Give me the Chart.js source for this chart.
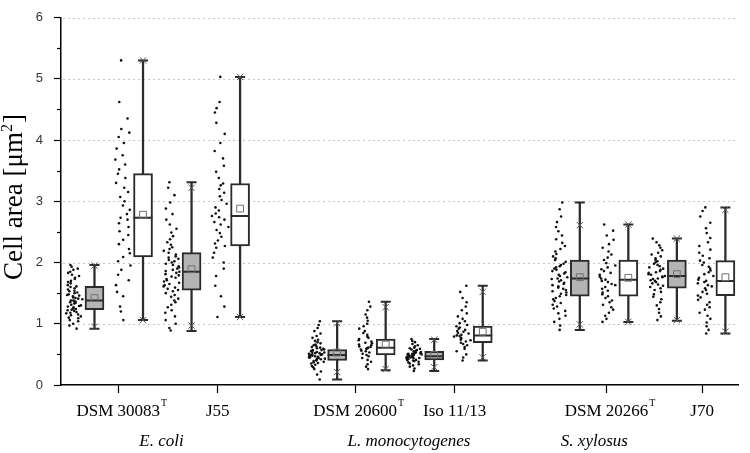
<!DOCTYPE html>
<html>
<head>
<meta charset="utf-8">
<script src="https://cdn.jsdelivr.net/npm/chart.js@4.4.1/dist/chart.umd.min.js"></script>
<style>
  html, body { margin: 0; padding: 0; background: #fff; }
  canvas { display: block; }
</style>
</head>
<body>
<canvas id="chart" width="750" height="453"></canvas>
<script>
// strains (two per species), each measured under two conditions (grey box, white box)
const strains = ['DSM 30083', 'J55', 'DSM 20600', 'Iso 11/13', 'DSM 20266', 'J70'];
const typeStrain = [true, false, true, false, true, false];
const species = ['E. coli', 'L. monocytogenes', 'S. xylosus'];
const yTicks = [0, 1, 2, 3, 4, 5, 6];

// box statistics, one entry per box: strain 1 grey, strain 1 white, strain 2 grey, ...
const q1     = [1.23, 2.09, 1.55, 2.27, 0.40, 0.49, 0.41, 0.69, 1.45, 1.45, 1.58, 1.46];
const median = [1.38, 2.73, 1.85, 2.76, 0.49, 0.61, 0.47, 0.81, 1.74, 1.72, 1.78, 1.70];
const q3     = [1.61, 3.45, 2.16, 3.29, 0.58, 0.75, 0.55, 0.96, 2.04, 2.04, 2.04, 2.03];
const mean   = [1.42, 2.78, 1.89, 2.88, 0.53, 0.66, 0.49, 0.87, 1.76, 1.75, 1.81, 1.76];
const minVal = [0.92, 1.06, 0.88, 1.11, 0.09, 0.24, 0.23, 0.40, 0.90, 1.03, 1.05, 0.84];
const maxVal = [1.96, 5.30, 3.31, 5.03, 1.04, 1.36, 0.75, 1.62, 2.98, 2.62, 2.39, 2.90];
const p1     = [0.95, 1.06, 0.97, 1.11, 0.21, 0.26, 0.29, 0.45, 0.99, 1.03, 1.06, 0.87];
const p99    = [1.95, 5.30, 3.22, 5.03, 1.01, 1.27, 0.74, 1.52, 2.61, 2.62, 2.39, 2.86];

// single cell areas
const cellsEcDsmA = [0.92,0.97,1.0,1.04,1.06,1.09,1.1,1.12,1.14,1.15,1.17,1.18,1.19,1.21,1.22,1.23,1.24,1.25,1.27,1.28,1.29,1.3,1.31,1.33,1.34,1.35,1.36,1.37,1.38,1.38,1.4,1.41,1.42,1.43,1.45,1.46,1.47,1.48,1.5,1.51,1.53,1.54,1.56,1.58,1.6,1.61,1.63,1.66,1.68,1.7,1.73,1.75,1.78,1.8,1.83,1.85,1.88,1.9,1.93,1.96];
const cellsEcDsmB = [1.06,1.2,1.28,1.45,1.52,1.63,1.71,1.8,1.88,1.95,2.02,2.09,2.15,2.22,2.3,2.37,2.45,2.51,2.58,2.64,2.7,2.73,2.79,2.86,2.93,3.0,3.07,3.15,3.22,3.3,3.38,3.45,3.52,3.6,3.68,3.75,3.86,3.95,4.05,4.12,4.18,4.35,4.62,5.3];
const cellsEcJ55A = [0.89,0.93,1.0,1.06,1.12,1.18,1.22,1.27,1.31,1.35,1.38,1.41,1.44,1.47,1.5,1.53,1.55,1.57,1.59,1.61,1.63,1.65,1.67,1.69,1.71,1.73,1.75,1.77,1.79,1.81,1.83,1.85,1.86,1.88,1.9,1.92,1.94,1.96,1.98,2.0,2.02,2.04,2.06,2.08,2.1,2.13,2.16,2.19,2.22,2.25,2.29,2.33,2.38,2.43,2.49,2.55,2.62,2.7,2.79,2.88,2.98,3.1,3.22,3.31];
const cellsEcJ55B = [1.11,1.28,1.45,1.62,1.78,1.9,2.0,2.08,2.16,2.24,2.27,2.31,2.36,2.42,2.48,2.53,2.58,2.62,2.66,2.7,2.74,2.76,2.8,2.85,2.9,2.96,3.02,3.08,3.14,3.2,3.26,3.29,3.38,3.48,3.58,3.7,3.82,3.95,4.1,4.28,4.45,4.52,4.62,5.03];
const cellsLmDsmA = [0.09,0.17,0.22,0.26,0.29,0.31,0.33,0.35,0.36,0.37,0.38,0.39,0.4,0.41,0.42,0.43,0.43,0.44,0.45,0.45,0.46,0.47,0.47,0.48,0.48,0.49,0.49,0.5,0.5,0.51,0.52,0.52,0.53,0.54,0.54,0.55,0.56,0.57,0.57,0.58,0.59,0.6,0.61,0.62,0.63,0.65,0.66,0.68,0.7,0.72,0.74,0.77,0.8,0.84,0.88,0.93,0.98,1.04];
const cellsLmDsmB = [0.26,0.3,0.34,0.38,0.41,0.44,0.47,0.49,0.51,0.53,0.55,0.56,0.58,0.59,0.6,0.61,0.62,0.63,0.65,0.66,0.68,0.69,0.71,0.73,0.75,0.77,0.79,0.82,0.85,0.88,0.92,0.96,1.0,1.05,1.1,1.15,1.22,1.28,1.36];
const cellsLmIsoA = [0.23,0.27,0.3,0.32,0.34,0.35,0.37,0.38,0.39,0.4,0.41,0.41,0.42,0.43,0.43,0.44,0.44,0.45,0.45,0.46,0.46,0.47,0.47,0.47,0.48,0.48,0.49,0.49,0.5,0.5,0.51,0.51,0.52,0.52,0.53,0.54,0.54,0.55,0.56,0.57,0.58,0.59,0.6,0.61,0.63,0.65,0.67,0.7,0.72,0.75];
const cellsLmIsoB = [0.4,0.45,0.5,0.55,0.59,0.62,0.65,0.67,0.69,0.71,0.73,0.74,0.76,0.77,0.79,0.8,0.81,0.82,0.84,0.85,0.87,0.88,0.9,0.92,0.94,0.96,0.98,1.01,1.04,1.08,1.12,1.17,1.22,1.28,1.35,1.42,1.52,1.62];
const cellsSxDsmA = [0.9,0.97,1.03,1.08,1.13,1.17,1.21,1.25,1.28,1.31,1.34,1.37,1.4,1.42,1.45,1.47,1.49,1.51,1.53,1.55,1.57,1.59,1.61,1.63,1.65,1.67,1.69,1.71,1.73,1.74,1.76,1.78,1.8,1.82,1.84,1.86,1.88,1.9,1.92,1.94,1.96,1.98,2.01,2.04,2.07,2.1,2.14,2.18,2.22,2.27,2.32,2.38,2.44,2.51,2.58,2.66,2.75,2.87,2.98];
const cellsSxDsmB = [1.03,1.08,1.13,1.18,1.23,1.27,1.31,1.35,1.38,1.42,1.45,1.48,1.51,1.54,1.57,1.6,1.63,1.65,1.68,1.7,1.72,1.74,1.77,1.8,1.83,1.86,1.89,1.92,1.95,1.99,2.04,2.08,2.13,2.18,2.24,2.3,2.37,2.44,2.52,2.62];
const cellsSxJ70A = [1.06,1.12,1.18,1.24,1.3,1.35,1.4,1.44,1.48,1.52,1.55,1.58,1.6,1.62,1.64,1.66,1.68,1.7,1.71,1.73,1.74,1.76,1.77,1.78,1.8,1.81,1.83,1.84,1.86,1.88,1.9,1.92,1.94,1.96,1.98,2.0,2.02,2.04,2.07,2.1,2.13,2.16,2.2,2.24,2.28,2.33,2.39];
const cellsSxJ70B = [0.84,0.9,0.96,1.02,1.08,1.13,1.18,1.23,1.27,1.31,1.35,1.39,1.43,1.46,1.49,1.52,1.55,1.58,1.61,1.63,1.66,1.68,1.7,1.72,1.75,1.78,1.81,1.84,1.87,1.9,1.93,1.96,2.0,2.03,2.07,2.11,2.16,2.21,2.27,2.33,2.4,2.48,2.56,2.65,2.75,2.84,2.9];
const cells = [cellsEcDsmA, cellsEcDsmB, cellsEcJ55A, cellsEcJ55B, cellsLmDsmA, cellsLmDsmB,
               cellsLmIsoA, cellsLmIsoB, cellsSxDsmA, cellsSxDsmB, cellsSxJ70A, cellsSxJ70B];

// layout on the x axis: 4 boxes per species, one empty slot between species
const boxX = median.map((_, i) => Math.floor(i / 4) * 5 + (i % 4));
const strainX = [0.49, 2.54, 5.37, 7.42, 10.55, 12.52];
const speciesX = [1.38, 6.48, 10.3];

const GREY = '#b4b4b4';
const INK = '#2b2b2b';

function boxData(filter) {
  return boxX.map((x, i) => ({ x, y: [q1[i], q3[i]] })).filter((_, i) => filter(i));
}

function pointsAt(values) {
  return boxX.map((x, i) => ({ x, y: values[i] }));
}

// horizontal jitter of the dot clouds (layout only), wider where the cloud is dense
function jitter(i, k) {
  const h = Math.sin((i + 1) * 12.9898 + (k + 1) * 78.233) * 43758.5453;
  return h - Math.floor(h) - 0.5;
}

const dots = [];
cells.forEach((arr, i) => {
  const span = (maxVal[i] - minVal[i]) || 1;
  const dens = arr.map(v => arr.filter(u => Math.abs(u - v) < span * 0.08).length);
  const dMax = Math.max(...dens);
  arr.forEach((v, k) => {
    const w = 0.36 * (0.5 + 0.5 * dens[k] / dMax);
    dots.push({ x: boxX[i] - 0.42 + jitter(i, k) * w, y: v });
  });
});

const datasets = [
  { type: 'scatter', data: dots, pointRadius: 1.3, pointHoverRadius: 1.3, pointBackgroundColor: '#111', pointBorderWidth: 0, order: 20 },
  { type: 'bar', data: boxX.map((x, i) => ({ x, y: [minVal[i], maxVal[i]] })), backgroundColor: INK, barThickness: 1.6, grouped: false, order: 12 },
  { type: 'bar', data: boxData(i => i % 2 === 0), backgroundColor: GREY, borderColor: INK, borderWidth: 2, borderSkipped: false, barThickness: 19, grouped: false, order: 8 },
  { type: 'bar', data: boxData(i => i % 2 === 1), backgroundColor: '#fff', borderColor: INK, borderWidth: 2, borderSkipped: false, barThickness: 19, grouped: false, order: 8 },
  { type: 'scatter', data: pointsAt(median), pointStyle: 'line', pointRadius: 9.5, borderColor: INK, borderWidth: 2, order: 4 },
  { type: 'scatter', data: pointsAt(minVal).concat(pointsAt(maxVal)), pointStyle: 'line', pointRadius: 5, borderColor: INK, borderWidth: 2, order: 4 },
  { type: 'scatter', data: pointsAt(p1).concat(pointsAt(p99)), pointStyle: 'crossRot', pointRadius: 4.5, borderColor: '#555', borderWidth: 1, order: 3 },
  { type: 'scatter', data: pointsAt(mean), pointStyle: 'rect', pointRadius: 4.8, backgroundColor: 'rgba(0,0,0,0)', borderColor: '#707070', borderWidth: 1, order: 2 }
];

const gridAndText = {
  id: 'gridAndText',
  beforeDatasetsDraw(chart) {
    const { ctx, chartArea, scales: { y } } = chart;
    ctx.save();
    ctx.strokeStyle = '#c6c6c6';
    ctx.lineWidth = 1;
    ctx.setLineDash([2, 3]);
    yTicks.filter(v => v > 0).forEach(v => {
      const py = Math.round(y.getPixelForValue(v)) + 0.5;
      ctx.beginPath();
      ctx.moveTo(chartArea.left + 2, py);
      ctx.lineTo(chartArea.right, py);
      ctx.stroke();
    });
    ctx.restore();
  },
  afterDraw(chart) {
    const { ctx, chartArea, scales: { x, y } } = chart;
    ctx.save();
    // minor ticks on y
    ctx.strokeStyle = '#000';
    ctx.lineWidth = 1.2;
    yTicks.slice(0, -1).forEach(v => {
      const py = Math.round(y.getPixelForValue(v + 0.5)) + 0.5;
      ctx.beginPath();
      ctx.moveTo(chartArea.left - 4, py);
      ctx.lineTo(chartArea.left, py);
      ctx.stroke();
    });

    // strain labels
    ctx.fillStyle = '#000';
    ctx.textBaseline = 'alphabetic';
    strains.forEach((s, i) => {
      const px = x.getPixelForValue(strainX[i]);
      ctx.font = '17px "Liberation Serif"';
      ctx.textAlign = 'center';
      ctx.fillText(s, px, 416);
      if (typeStrain[i]) {
        const w = ctx.measureText(s).width;
        ctx.font = '10px "Liberation Serif"';
        ctx.textAlign = 'left';
        ctx.fillText('T', px + w / 2 + 1, 406);
      }
    });

    // species labels
    ctx.font = 'italic 17px "Liberation Serif"';
    ctx.textAlign = 'center';
    species.forEach((s, i) => ctx.fillText(s, x.getPixelForValue(speciesX[i]), 446));

    // y title
    ctx.translate(22, 197);
    ctx.rotate(-Math.PI / 2);
    ctx.font = '27px "Liberation Serif"';
    const main = 'Cell area [\u03bcm';
    const wMain = ctx.measureText(main).width;
    ctx.font = '16px "Liberation Serif"';
    const wSup = ctx.measureText('2').width;
    ctx.font = '27px "Liberation Serif"';
    const wEnd = ctx.measureText(']').width;
    const start = -(wMain + wSup + 1 + wEnd) / 2;
    ctx.textAlign = 'left';
    ctx.fillText(main, start, 0);
    ctx.font = '16px "Liberation Serif"';
    ctx.fillText('2', start + wMain, -10);
    ctx.font = '27px "Liberation Serif"';
    ctx.fillText(']', start + wMain + wSup + 1, 0);
    ctx.restore();
  }
};

new Chart(document.getElementById('chart'), {
  type: 'bar',
  data: { datasets },
  options: {
    responsive: false,
    animation: false,
    events: [],
    layout: { padding: { left: 0, right: 2, top: 0, bottom: 0 } },
    plugins: { legend: { display: false }, tooltip: { enabled: false } },
    scales: {
      x: {
        type: 'linear',
        min: -0.69,
        max: 13.27,
        offset: false,
        afterBuildTicks: s => { s.ticks = strainX.map(v => ({ value: v })); },
        afterFit: s => { s.height = 68; },
        ticks: { display: false },
        grid: { offset: false, drawOnChartArea: false, drawTicks: true, tickLength: 8, tickColor: '#000', tickWidth: 1.2 },
        border: { color: '#000', width: 1.5 }
      },
      y: {
        min: 0,
        max: 6,
        afterBuildTicks: s => { s.ticks = yTicks.map(v => ({ value: v })); },
        afterFit: s => { s.width = 61; },
        ticks: { color: '#333', padding: 11, font: { family: '"Liberation Sans"', size: 13, lineHeight: 1 } },
        grid: { drawOnChartArea: false, drawTicks: true, tickLength: 7, tickColor: '#000', tickWidth: 1.2 },
        border: { color: '#000', width: 1.5 }
      }
    }
  },
  plugins: [gridAndText]
});
</script>
</body>
</html>
